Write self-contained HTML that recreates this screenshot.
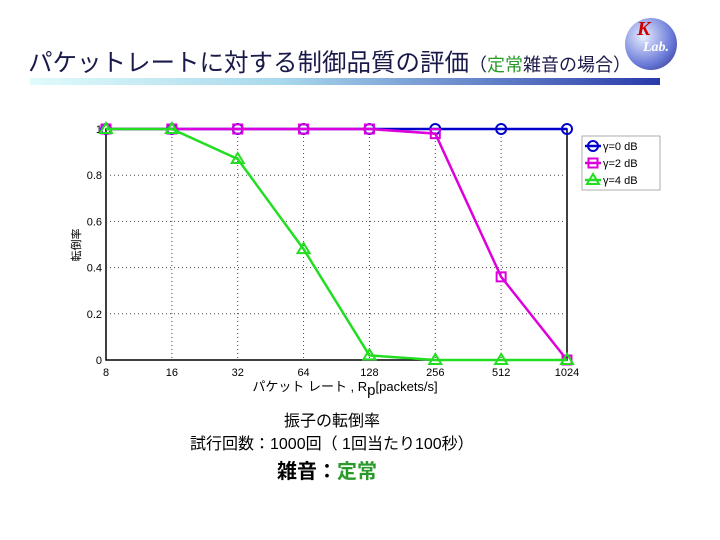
<!DOCTYPE html>
<html><head><meta charset="utf-8"><style>
body{margin:0;width:720px;height:540px;background:#fff;overflow:hidden;font-family:"Liberation Sans","Noto Sans CJK JP",sans-serif;position:relative}
.t{position:absolute;white-space:nowrap}
</style></head><body>
<div class="t" style="left:28px;top:44px;font-size:24.5px;color:#1a1a4a">パケットレートに対する制御品質の評価<span style="font-size:18px">（<span style="color:#2a9a2a">定常</span>雑音の場合）</span></div>
<div style="position:absolute;left:30px;top:78px;width:630px;height:7px;background:linear-gradient(90deg,#e0fbfb,#a8d8ec 40%,#2a3aaa)"></div>
<div style="position:absolute;left:625px;top:18px;width:52px;height:52px;border-radius:50%;background:radial-gradient(circle at 35% 35%,#e8eeff,#6a7ad8 60%,#2a2a80);"><span style="position:absolute;left:12px;top:0;color:#c00;font:italic bold 20px 'Liberation Serif',serif">K</span><span style="position:absolute;left:18px;top:22px;color:#fff;font:italic bold 14px 'Liberation Serif',serif">Lab.</span></div>
<svg id="chart" width="720" height="540" style="position:absolute;left:0;top:0"></svg>
<div class="t" style="left:284px;top:407px;font-size:16px">振子の転倒率</div>
<div class="t" style="left:190px;top:430px;font-size:16px">試行回数：1000回（ 1回当たり100秒）</div>
<div class="t" style="left:277px;top:455px;font-size:20px;font-weight:bold">雑音：<span style="color:#2a9a2a">定常</span></div>
<script>
const cats=["8","16","32","64","128","256","512","1024"];
const yTicks=[0,0.2,0.4,0.6,0.8,1];
const s0=[1,1,1,1,1,1,1,1];
const s2=[1,1,1,1,1,0.98,0.36,0];
const s4=[1,1,0.87,0.48,0.02,0,0,0];
const names=["γ=0 dB","γ=2 dB","γ=4 dB"];
const colors=["#0000cc","#dd00dd","#22dd22"];
const NS="http://www.w3.org/2000/svg";
const svg=document.getElementById('chart');
const L=106,R=567,T=129,B=360;
const X=i=>L+(R-L)*i/(cats.length-1);
const Y=v=>B-(B-T)*v;
function mk(t,a){const e=document.createElementNS(NS,t);for(const k in a)e.setAttribute(k,a[k]);svg.appendChild(e);return e;}
let e=mk('rect',{x:L,y:T,width:R-L,height:B-T,fill:'#fff',stroke:'#000','stroke-width':1.5});


cats.forEach((c,i)=>{
 if(i>0&&i<cats.length-1){let g=mk('line',{x1:X(i),x2:X(i),y1:T,y2:B,stroke:'#444','stroke-dasharray':'1,3'});}
 let t=mk('text',{x:X(i),y:B+16,'font-size':11,'text-anchor':'middle'});t.textContent=c;
 
 
});
yTicks.forEach(v=>{
 if(v>0&&v<1){let g=mk('line',{x1:L,x2:R,y1:Y(v),y2:Y(v),stroke:'#444','stroke-dasharray':'1,3'});}
 let t=mk('text',{x:L-4,y:Y(v)+4,'font-size':11,'text-anchor':'end'});t.textContent=String(v);
 
 
});
let xl=mk('text',{x:345,y:391,'font-size':13,'text-anchor':'middle'});xl.innerHTML='パケット レート , R<tspan font-size="15" dy="4">p</tspan><tspan dy="-4">[packets/s]</tspan>';


let yl=mk('text',{x:0,y:0,'font-size':11,'text-anchor':'middle',transform:'translate(80,245) rotate(-90)'});yl.textContent='転倒率';


function marker(k,x,y,c){
 if(k==0)return mk('circle',{cx:x,cy:y,r:5,fill:'none',stroke:c,'stroke-width':2});
 if(k==1)return mk('rect',{x:x-4.5,y:y-4.5,width:9,height:9,fill:'none',stroke:c,'stroke-width':2});
 return mk('polygon',{points:`${x},${y-6} ${x-6},${y+4} ${x+6},${y+4}`,fill:'none',stroke:c,'stroke-width':2});
}
[s0,s2,s4].forEach((s,k)=>{
 let p=mk('polyline',{points:s.map((v,i)=>X(i)+','+Y(v)).join(' '),fill:'none',stroke:colors[k],'stroke-width':2.5});
 
 
 s.forEach((v,i)=>{let m=marker(k,X(i),Y(v),colors[k]);});
});
let lb=mk('rect',{x:582,y:136,width:78,height:54,fill:'#fff',stroke:'#999','stroke-width':0.8});


names.forEach((n,k)=>{
 const y=146+k*17;
 let l=mk('line',{x1:585,x2:601,y1:y,y2:y,stroke:colors[k],'stroke-width':2.5});
 let m=marker(k,593,y,colors[k]);
 let t=mk('text',{x:603,y:y+4,'font-size':11});t.textContent=n;
 
 
});
</script>
</body></html>
